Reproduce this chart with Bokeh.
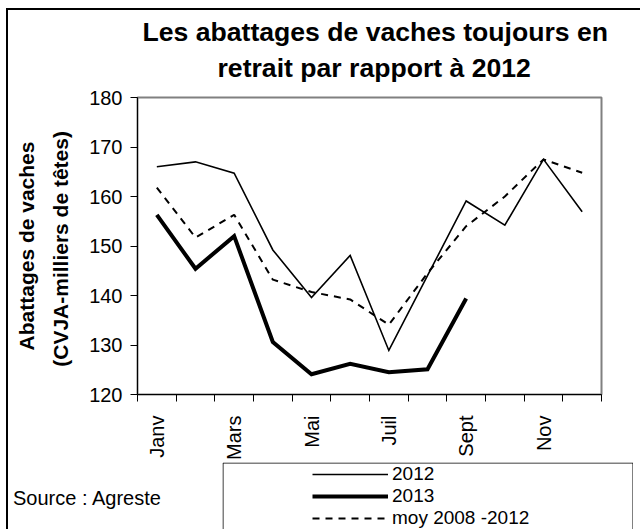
from math import pi
from bokeh.plotting import figure
from bokeh.layouts import column, row
from bokeh.models import Range1d, FixedTicker, Title, Legend, LegendItem, Div, BoxAnnotation
from bokeh.embed import file_html
from bokeh.resources import INLINE

# ---- data -------------------------------------------------------------
months = ["Janv", "Févr", "Mars", "Avr", "Mai", "Juin",
          "Juil", "Août", "Sept", "Oct", "Nov", "Déc"]
month_index = list(range(1, 13))
labelled_months = ["Janv", "Mars", "Mai", "Juil", "Sept", "Nov"]
y_ticks = [120, 130, 140, 150, 160, 170, 180]

abattages_2012 = [166.0, 167.0, 164.7, 149.2, 139.6, 148.1,
                  128.9, 144.0, 159.1, 154.2, 167.5, 156.9]
abattages_2013 = [156.3, 145.4, 152.0, 130.6, 124.1, 126.2,
                  124.5, 125.1, 139.4]
moy_2008_2012 = [161.8, 151.7, 156.3, 143.2, 140.7, 139.2,
                 134.1, 144.5, 154.0, 160.0, 167.5, 164.8]

series_names = ["2012", "2013", "moy 2008 -2012"]
title_lines = ["Les abattages de vaches toujours en",
               "retrait par rapport à 2012"]
ylabel_text = "Abattages de vaches\n(CVJA-milliers de  têtes)"
source_text = "Source : Agreste"

FONT = "Liberation Sans"
series_styles = [dict(line_color="black", line_width=1.6, line_join="miter"),
                 dict(line_color="black", line_width=4, line_join="miter"),
                 dict(line_color="black", line_width=2, line_dash="7 6")]
series_values = [abattages_2012, abattages_2013, moy_2008_2012]

# ---- main figure ------------------------------------------------------
p = figure(width=632, height=452, output_backend="svg", toolbar_location=None,
           title_location=None,
           x_range=Range1d(0.5, 12.5), y_range=Range1d(120, 180),
           min_border_left=129, min_border_right=39,
           min_border_top=87, min_border_bottom=67,
           outline_line_color="#808080", outline_line_width=2,
           background_fill_color="white", border_fill_color="white")
p.xgrid.visible = False
p.ygrid.visible = False

p.add_layout(Title(text=title_lines[1], align="left", offset=80, standoff=29,
                   text_font=FONT, text_font_size="26.6px",
                   text_font_style="bold", text_color="black"), "above")
p.add_layout(Title(text=title_lines[0], align="left", offset=5, standoff=-20,
                   text_font=FONT, text_font_size="26.6px",
                   text_font_style="bold", text_color="black"), "above")

xa = p.xaxis[0]
xa.ticker = FixedTicker(ticks=[month_index[months.index(m)] for m in labelled_months],
                        minor_ticks=[i + 0.5 for i in range(0, 13)])
xa.major_label_overrides = {month_index[months.index(m)]: m for m in labelled_months}
xa.major_label_orientation = pi / 2
xa.major_tick_out = 0
xa.major_tick_in = 0
xa.minor_tick_out = 7
xa.minor_tick_in = 0
xa.minor_tick_line_color = "black"
xa.axis_line_color = "black"
xa.major_label_standoff = 14
xa.major_label_text_font = FONT
xa.major_label_text_font_size = "20px"
xa.major_label_text_color = "black"

ya = p.yaxis[0]
ya.ticker = FixedTicker(ticks=y_ticks)
ya.major_tick_out = 7
ya.major_tick_in = 0
ya.minor_tick_out = 0
ya.minor_tick_in = 0
ya.major_tick_line_color = "black"
ya.axis_line_color = "black"
ya.major_label_standoff = 8
ya.major_label_text_font = FONT
ya.major_label_text_font_size = "20px"
ya.major_label_text_color = "black"
ya.axis_label = ylabel_text
ya.axis_label_standoff = 14
ya.axis_label_text_font = FONT
ya.axis_label_text_font_size = "21px"
ya.axis_label_text_font_style = "bold"
ya.axis_label_text_color = "black"
ya.axis_label_text_line_height = 1.5

for vals, st in zip(series_values, series_styles):
    p.line(month_index[:len(vals)], vals, **st)

# ---- legend strip (box + legend), its series kept out of view ----------
pl = figure(width=411, height=67, output_backend="svg", toolbar_location=None,
            title_location=None, x_axis_location=None, y_axis_location=None,
            x_range=Range1d(100, 101), y_range=Range1d(0, 1),
            min_border=0, outline_line_color=None,
            background_fill_color="white", border_fill_color="white")
pl.xgrid.visible = False
pl.ygrid.visible = False
leg_renderers = [pl.line(month_index[:len(vals)], vals, **st)
                 for vals, st in zip(series_values, series_styles)]

legend = Legend(items=[LegendItem(label=n, renderers=[r])
                       for n, r in zip(series_names, leg_renderers)],
                location=(90, 0), orientation="vertical",
                border_line_color=None, background_fill_alpha=0,
                padding=0, margin=0, spacing=0,
                glyph_width=76, glyph_height=20, label_height=20,
                label_standoff=4,
                label_text_font=FONT, label_text_font_size="19px",
                label_text_color="black")
pl.add_layout(legend, "center")
pl.add_layout(BoxAnnotation(left=0.5, right=410.5, top=66.5, bottom=-20,
                            left_units="screen", right_units="screen",
                            top_units="screen", bottom_units="screen",
                            fill_color=None, fill_alpha=0,
                            line_color="black", line_width=1, line_alpha=1))

source = Div(text=source_text, width=209, height=42, margin=(25, 0, 0, 5),
             styles={"font-family": FONT, "font-size": "20px",
                     "color": "black", "line-height": "23px"})

layout = column(p, row(source, pl, spacing=0), spacing=0, margin=(8, 0, 0, 6),
                styles={"border-left": "2px solid black",
                        "border-top": "2px solid black"})

open("out.html", "w").write(file_html(layout, INLINE))
